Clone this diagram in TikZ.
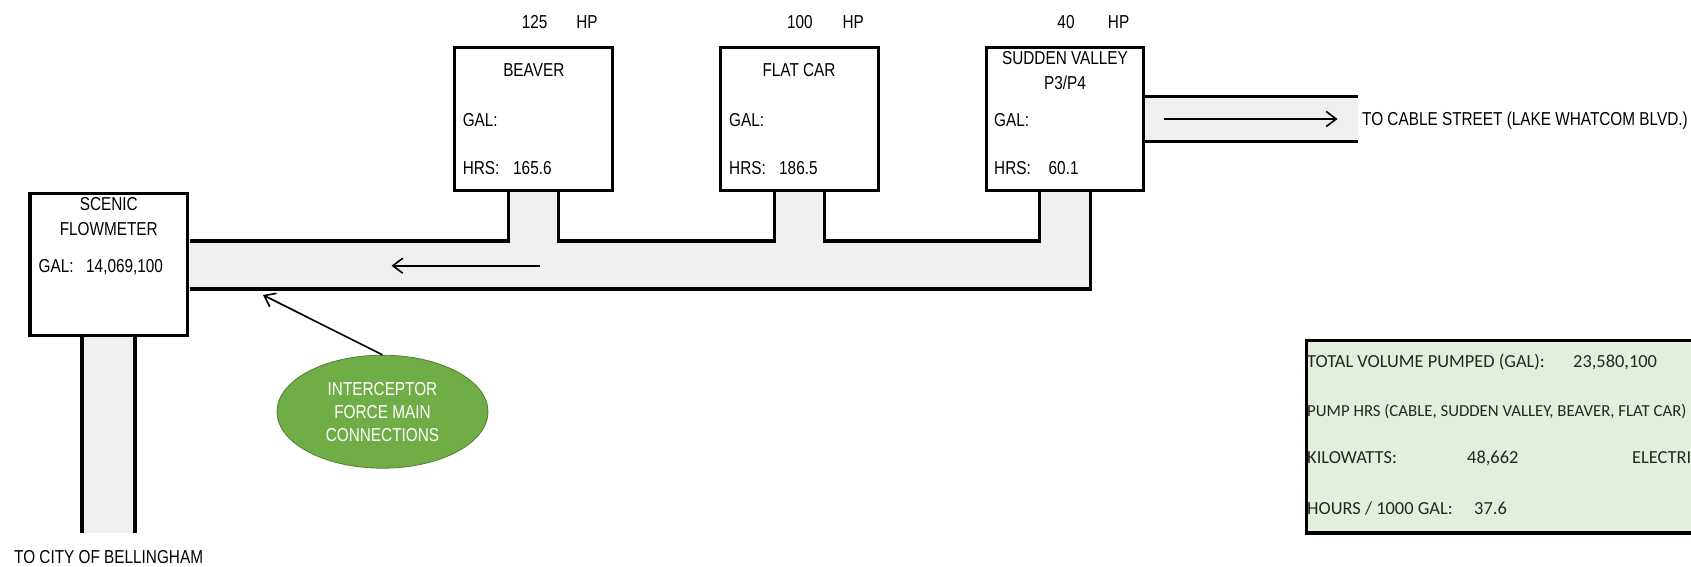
\documentclass[tikz,border=0pt]{standalone}
\usepackage{fontspec}
\setmainfont{Liberation Sans}
\newfontfamily\narfont[FakeStretch=0.82]{Liberation Sans}
\newfontfamily\calfont{Carlito}
\usetikzlibrary{shapes.geometric,arrows.meta}
\definecolor{pipegray}{HTML}{EFEFEF}
\definecolor{grn}{HTML}{70AD47}
\definecolor{grnline}{HTML}{507E32}
\definecolor{sumfill}{HTML}{E2EFDA}
\tikzset{
  txt/.style={font=\narfont\fontsize{18.7}{23}\selectfont, inner sep=0pt},
  tl/.style={txt, anchor=west, text height=13.4pt, text depth=0pt},
  tc/.style={txt, anchor=center, text height=13.4pt, text depth=0pt},
  sm/.style={font=\calfont\fontsize{18.4}{22}\selectfont, inner sep=0pt, anchor=west, text=black!85, text height=11.85pt, text depth=0pt},
  pump/.style={draw, line width=3.3pt, fill=white, minimum width=157.5pt, minimum height=142.5pt, inner sep=0pt},
  pipeline/.style={line width=3.2pt, line join=miter},
  flow/.style={line width=1.6pt, -{Straight Barb[length=10pt,width=15pt,line width=1.6pt]}},
}
\begin{document}
\begin{tikzpicture}[x=1pt,y=-1pt]
\useasboundingbox (0,0) rectangle (1691,567);
\clip (0,0) rectangle (1691,567);

% pipe fills
\fill[pipegray] (190,241) -- (508.5,241) -- (508.5,192) -- (558.5,192) -- (558.5,241)
  -- (774.5,241) -- (774.5,192) -- (824.5,192) -- (824.5,241) -- (1039.5,241)
  -- (1039.5,192) -- (1090.3,192) -- (1090.3,289) -- (190,289) -- cycle;
\fill[pipegray] (1145,96.5) rectangle (1358,141.8);
\fill[pipegray] (82,337) rectangle (135,532.7);

% pipe walls
\draw[pipeline] (190,241) -| (508.5,192);
\draw[pipeline] (558.5,192) |- (774.5,241) -- (774.5,192);
\draw[pipeline] (824.5,192) |- (1039.5,241) -- (1039.5,192);
\draw[pipeline] (1090.3,192) |- (190,289);
\draw[pipeline] (1145,96.5) -- (1358,96.5);
\draw[pipeline] (1145,141.8) -- (1358,141.8);
\draw[pipeline] (82,337) -- (82,532.7);
\draw[pipeline] (135,337) -- (135,532.7);

% pump / meter boxes
\node[pump] (beaver) at (533.5,119) {};
\node[pump] (flatcar) at (799.4,119) {};
\node[pump] (sv) at (1065,119) {};
\node[pump] (scenic) at (108.8,264.5) {};

% HP labels
\node[tc] (hp1n) at (534.6,22.3) {125};
\node[tc] (hp1u) at (587,22.3) {HP};
\node[tc] (hp2n) at (799.8,22.3) {100};
\node[tc] (hp2u) at (853.3,22.3) {HP};
\node[tc] (hp3n) at (1066,22.3) {40};
\node[tc] (hp3u) at (1118.6,22.3) {HP};

% box texts
\node[tc] (beavername) at (533.8,70) {BEAVER};
\node[tl] (beavergal) at (462.6,120) {GAL:};
\node[tl] (beaverhrs) at (462.6,168) {HRS:};
\node[tl] (beaverhrsv) at (513,168) {165.6};

\node[tc] (flatname) at (799,70) {FLAT CAR};
\node[tl] (flatgal) at (729,120) {GAL:};
\node[tl] (flathrs) at (729,168) {HRS:};
\node[tl] (flathrsv) at (779,168) {186.5};

\node[tc] (svname1) at (1065,58.3) {SUDDEN VALLEY};
\node[tc] (svname2) at (1065,82.7) {P3/P4};
\node[tl] (svgal) at (994,120) {GAL:};
\node[tl] (svhrs) at (994,168) {HRS:};
\node[tl] (svhrsv) at (1048.5,168) {60.1};

\node[tc] (scname1) at (108.8,204) {SCENIC};
\node[tc] (scname2) at (108.8,228.7) {FLOWMETER};
\node[tl] (scgal) at (38.4,265.7) {GAL:};
\node[tl] (scgalv) at (86,265.7) {14,069,100};

% destinations
\node[tl] (cable) at (1362,119) {TO CABLE STREET (LAKE WHATCOM BLVD.)};
\node[tl] (city) at (14,556.7) {TO CITY OF BELLINGHAM};

% flow arrows
\coordinate (f1s) at (540,265.7);
\coordinate (f1e) at (391.5,265.7);
\draw[flow] (f1s) -- (f1e);
\coordinate (f2s) at (1164,119);
\coordinate (f2e) at (1337.5,119);
\draw[flow] (f2s) -- (f2e);

% interceptor callout
\node[ellipse, draw=grnline, line width=0.8pt, fill=grn, minimum width=211pt, minimum height=113pt,
      inner sep=0pt, text=white, align=center, txt] (ell) at (382.5,411.7) {INTERCEPTOR\\FORCE MAIN\\CONNECTIONS};
\coordinate (f3e) at (263,295);
\draw[flow] (ell.north) -- (f3e);

% summary table
\node[draw, line width=3.3pt, fill=sumfill, minimum width=600pt, minimum height=192.6pt,
      inner sep=0pt, anchor=north west] (summary) at (1304.7,338.7) {};
\node[sm] (s1) at (1307,362) {TOTAL VOLUME PUMPED (GAL):};
\node[sm] (s1v) at (1573,362) {23,580,100};
\node[sm, font=\calfont\fontsize{16.8}{20}\selectfont, text height=10.8pt] (s2) at (1307,411) {PUMP HRS (CABLE, SUDDEN VALLEY, BEAVER, FLAT CAR)};
\node[sm] (s3) at (1307,458) {KILOWATTS:};
\node[sm] (s3v) at (1467,458) {48,662};
\node[sm] (s3e) at (1632,458) {ELECTRI};
\node[sm] (s4) at (1307,509) {HOURS / 1000 GAL:};
\node[sm] (s4v) at (1474,509) {37.6};
\end{tikzpicture}
\end{document}
